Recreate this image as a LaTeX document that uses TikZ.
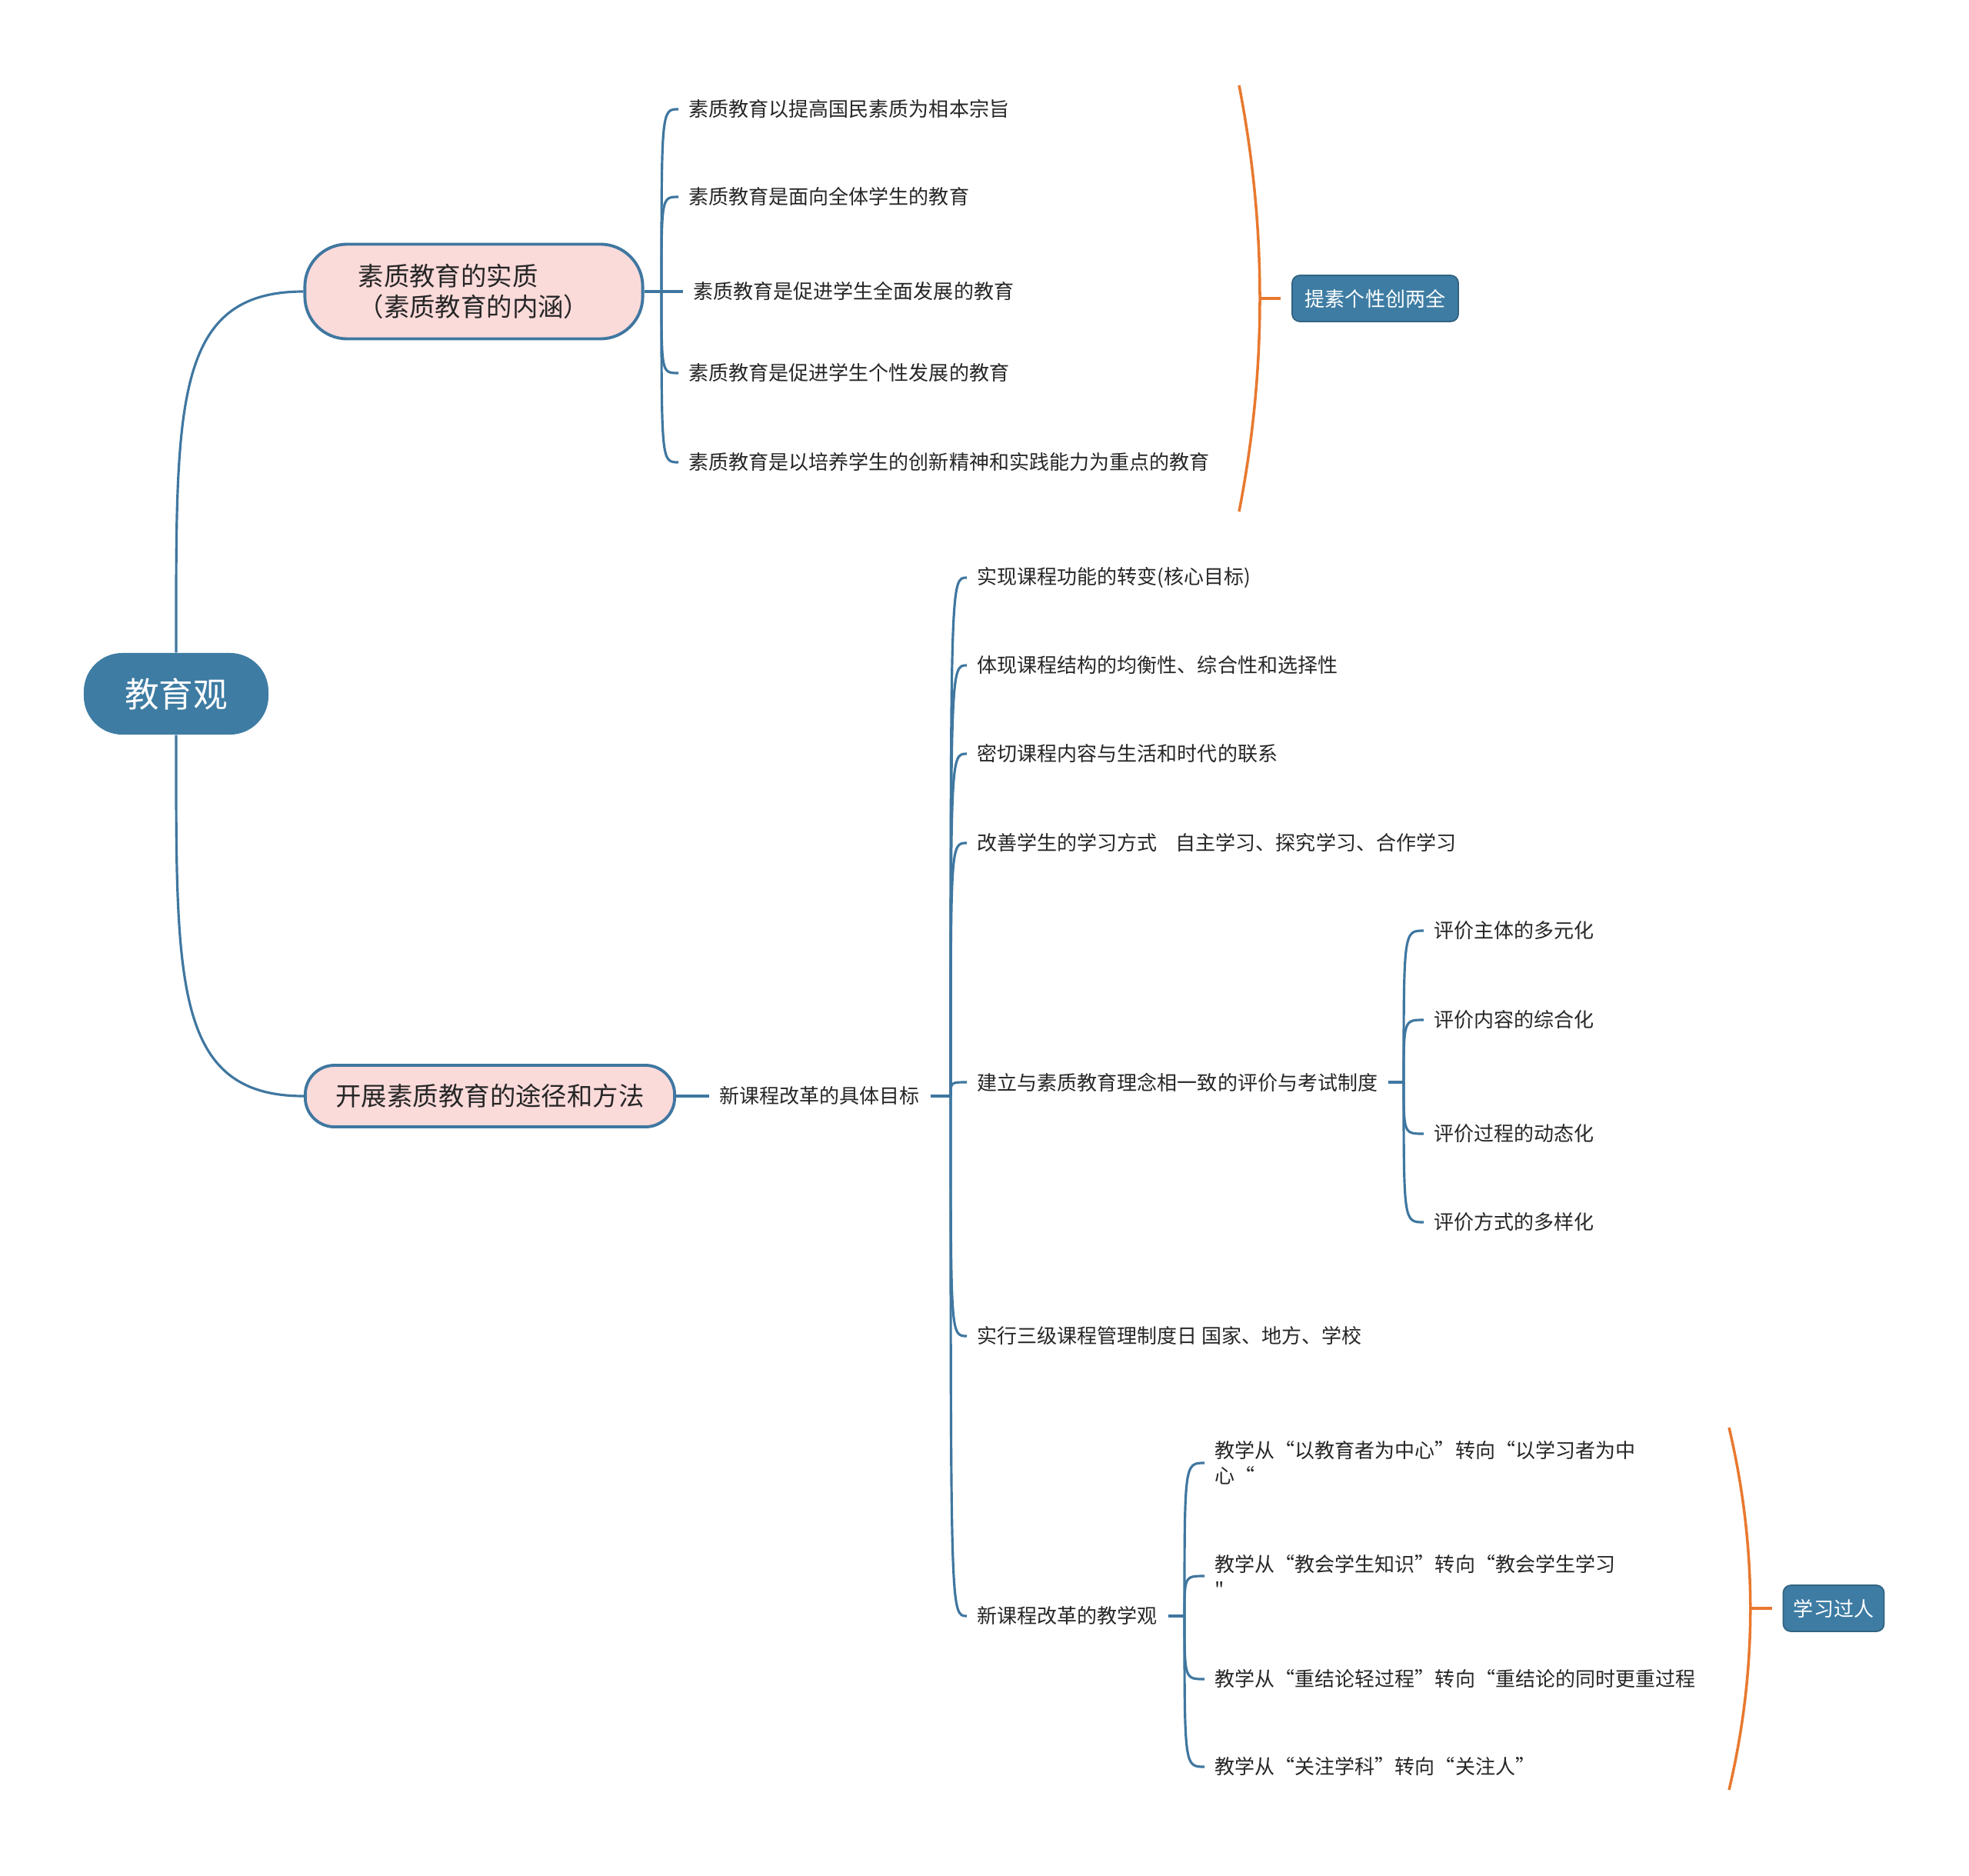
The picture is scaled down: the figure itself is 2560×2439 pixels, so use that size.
\documentclass[tikz,border=0pt]{standalone}
\usepackage{fontspec}
\setmainfont{Noto Sans CJK SC}
\newfontfamily\plainquote{Noto Sans CJK SC}
\definecolor{lineblue}{HTML}{3F77A0}
\definecolor{boxblue}{HTML}{3E7CA3}
\definecolor{pinkfill}{HTML}{FBDADA}
\definecolor{sumorange}{HTML}{E8792F}
\begin{document}
\begin{tikzpicture}[x=0.01cm, y=-0.01cm,
  conn/.style={draw=lineblue, line width=0.9pt},
  sumline/.style={draw=sumorange, line width=1pt},
  rootbox/.style={rectangle, rounded corners=0.5cm, fill=boxblue, text=white, minimum width=2.4cm, minimum height=1.06cm, font=\fontsize{12.7}{15}\selectfont},
  topicbox/.style={rectangle, rounded corners=0.38cm, draw=lineblue, line width=1.1pt, fill=pinkfill, text=black!85, font=\fontsize{9.5}{11.5}\selectfont, align=left},
  leaf/.style={anchor=west, inner xsep=0.13cm, inner ysep=2pt, text=black!85, font=\fontsize{7.4}{9.4}\selectfont, align=left},
  tagbox/.style={rectangle, rounded corners=0.1cm, fill=boxblue, draw=boxblue!80!black, line width=0.5pt, text=white, minimum height=0.6cm, inner xsep=0.1cm, font=\fontsize{7.4}{9}\selectfont}]
\useasboundingbox (0,0) rectangle (2560,2439);
\node[rootbox] (root) at (229,902) {教育观};
\node[topicbox, rounded corners=0.55cm, minimum width=4.39cm, minimum height=1.23cm] (sz) at (616,379) {素质教育的实质\\（素质教育的内涵）};
\node[topicbox, minimum width=4.80cm, minimum height=0.80cm] (tj) at (637,1425) {开展素质教育的途径和方法};
\draw[conn] (root.north) .. controls +(0,-320) and +(-170,0) .. (sz.west);
\draw[conn] (root.south) .. controls +(0,320) and +(-170,0) .. (tj.west);
\coordinate (j1) at (860,379);
\draw[conn] (sz.east) -- (j1);
\node[leaf] (s1) at (882,142) {素质教育以提高国民素质为相本宗旨};
\node[leaf] (s2) at (882,256) {素质教育是面向全体学生的教育};
\node[leaf] (s3) at (888,379) {素质教育是促进学生全面发展的教育};
\node[leaf] (s4) at (882,485) {素质教育是促进学生个性发展的教育};
\node[leaf] (s5) at (882,601) {素质教育是以培养学生的创新精神和实践能力为重点的教育};
\draw[conn] (j1) .. controls (j1 |- s1.west) .. (s1.west);
\draw[conn] (j1) .. controls (j1 |- s2.west) .. (s2.west);
\draw[conn] (j1) -- (s3.west);
\draw[conn] (j1) .. controls (j1 |- s4.west) .. (s4.west);
\draw[conn] (j1) .. controls (j1 |- s5.west) .. (s5.west);
\coordinate (bt1) at (1611,111);
\coordinate (bb1) at (1611,665);
\coordinate (tip1) at (1638,388);
\draw[sumline] (bt1) .. controls (1647,296) and (1647,480) .. (bb1);
\node[tagbox, minimum width=2.16cm] (tag1) at (1788,388) {提素个性创两全};
\draw[sumline, shorten >=0.14cm] (tip1) -- (tag1.west);
\node[leaf] (goal) at (922,1425) {新课程改革的具体目标};
\draw[conn] (tj.east) -- (goal.west);
\coordinate (j2) at (1236,1425);
\draw[conn] (goal.east) -- (j2);
\node[leaf] (g1) at (1257,751) {实现课程功能的转变(核心目标)};
\node[leaf] (g2) at (1257,865) {体现课程结构的均衡性、综合性和选择性};
\node[leaf] (g3) at (1257,980) {密切课程内容与生活和时代的联系};
\node[leaf] (g4) at (1257,1096) {改善学生的学习方式\hspace{0.92em}自主学习、探究学习、合作学习};
\node[leaf] (g5) at (1257,1407) {建立与素质教育理念相一致的评价与考试制度};
\node[leaf] (g6) at (1257,1737) {实行三级课程管理制度日 国家、地方、学校};
\node[leaf] (g7) at (1257,2101) {新课程改革的教学观};
\draw[conn] (j2) .. controls (j2 |- g1.west) .. (g1.west);
\draw[conn] (j2) .. controls (j2 |- g2.west) .. (g2.west);
\draw[conn] (j2) .. controls (j2 |- g3.west) .. (g3.west);
\draw[conn] (j2) .. controls (j2 |- g4.west) .. (g4.west);
\draw[conn] (j2) .. controls (j2 |- g5.west) .. (g5.west);
\draw[conn] (j2) .. controls (j2 |- g6.west) .. (g6.west);
\draw[conn] (j2) .. controls (j2 |- g7.west) .. (g7.west);
\coordinate (j3) at (1825,1407);
\draw[conn] (g5.east) -- (j3);
\node[leaf] (e1) at (1851,1210) {评价主体的多元化};
\node[leaf] (e2) at (1851,1326) {评价内容的综合化};
\node[leaf] (e3) at (1851,1474) {评价过程的动态化};
\node[leaf] (e4) at (1851,1589) {评价方式的多样化};
\draw[conn] (j3) .. controls (j3 |- e1.west) .. (e1.west);
\draw[conn] (j3) .. controls (j3 |- e2.west) .. (e2.west);
\draw[conn] (j3) .. controls (j3 |- e3.west) .. (e3.west);
\draw[conn] (j3) .. controls (j3 |- e4.west) .. (e4.west);
\coordinate (j4) at (1540,2101);
\draw[conn] (g7.east) -- (j4);
\node[leaf] (t1) at (1566,1902) {教学从“以教育者为中心”转向“以学习者为中\\心“};
\node[leaf] (t2) at (1566,2049) {教学从“教会学生知识”转向“教会学生学习\\{\plainquote"}};
\node[leaf] (t3) at (1566,2183) {教学从“重结论轻过程”转向“重结论的同时更重过程};
\node[leaf] (t4) at (1566,2297) {教学从“关注学科”转向“关注人”};
\draw[conn] (j4) .. controls (j4 |- t1.west) .. (t1.west);
\draw[conn] (j4) .. controls (j4 |- t2.west) .. (t2.west);
\draw[conn] (j4) .. controls (j4 |- t3.west) .. (t3.west);
\draw[conn] (j4) .. controls (j4 |- t4.west) .. (t4.west);
\coordinate (bt2) at (2248,1856);
\coordinate (bb2) at (2248,2327);
\coordinate (tip2) at (2276,2091);
\draw[sumline] (bt2) .. controls (2285,2013) and (2285,2170) .. (bb2);
\node[tagbox, minimum width=1.31cm] (tag2) at (2384,2091) {学习过人};
\draw[sumline, shorten >=0.14cm] (tip2) -- (tag2.west);
\end{tikzpicture}
\end{document}
